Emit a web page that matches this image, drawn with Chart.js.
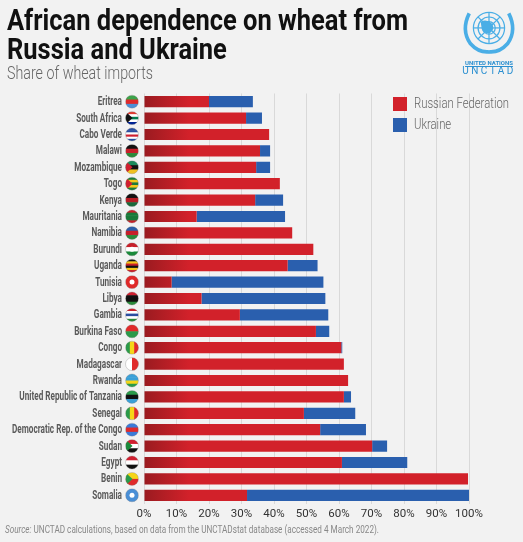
<!DOCTYPE html>
<html>
<head>
<meta charset="utf-8">
<script src="https://cdn.jsdelivr.net/npm/chart.js@4"></script>
<style>
  html, body { margin:0; padding:0; background:#f2f2f2; }
  #wrap { position:relative; width:523px; height:542px; overflow:hidden; background:#f2f2f2; }
  #chartBox { position:absolute; left:0; top:0; width:523px; height:542px; }
  .fit { position:absolute; white-space:nowrap; transform-origin:0 0; }
  #title { left:7px; top:5px; font-family:"Roboto",sans-serif; font-size:30px; line-height:29px; font-weight:700; color:#111; }
  #title span { display:inline-block; }
  #subtitle { left:7px; top:63px; font-size:17.5px; color:#666; font-family:"Roboto",sans-serif; font-weight:300; }
  #legend { position:absolute; left:393px; top:97px; }
  .legrow { position:relative; height:18px; margin-bottom:3px; }
  .legrow .sw { position:absolute; left:0; top:0; width:14px; height:14px; }
  .legrow .lt { left:21px; top:-3px; font-size:15px; color:#666; font-family:"Roboto",sans-serif; font-weight:300; }
  #source { left:5px; top:523px; font-size:10.5px; color:#888; font-family:"Roboto",sans-serif; }
  #logo { position:absolute; left:455px; top:4px; width:68px; text-align:center; color:#2a8fd0; font-family:"Roboto",sans-serif; }
</style>
</head>
<body>
<div id="wrap">
  <div id="chartBox"><canvas id="c"></canvas></div>
  <div id="title" class="fit"><span id="t1">African dependence on wheat from</span><br><span>Russia and Ukraine</span></div>
  <div id="subtitle" class="fit">Share of wheat imports</div>
  <div id="legend"></div>
  <div id="source" class="fit"><i>Source:</i> UNCTAD calculations, based on data from the UNCTADstat database (accessed 4 March 2022).</div>
  <div id="logo">
    <svg width="64" height="52" viewBox="0 0 60 50">
      <g fill="none" stroke="#4aaee6" stroke-width="1.2">
        <circle cx="30" cy="23" r="15"/>
        <circle cx="30" cy="23" r="10.5"/>
        <circle cx="30" cy="23" r="6"/>
        <line x1="15" y1="23" x2="45" y2="23"/>
        <line x1="30" y1="8" x2="30" y2="38"/>
        <line x1="19.4" y1="12.4" x2="40.6" y2="33.6"/>
        <line x1="40.6" y1="12.4" x2="19.4" y2="33.6"/>
        <path d="M11 9 Q3 25 12 38 Q20 47 30 46" stroke-width="3.5"/>
        <path d="M49 9 Q57 25 48 38 Q40 47 30 46" stroke-width="3.5"/>
      </g>
      <path d="M22 17 Q28 14 33 19 Q36 24 31 28 Q25 29 23 24 Z" fill="#4aaee6"/>
    </svg>
    <div style="font-size:6px;font-weight:bold;margin-top:-1px;text-decoration:underline;">UNITED NATIONS</div>
    <div style="font-size:10px;letter-spacing:2.5px;margin-top:-1px;">UNCTAD</div>
  </div>
</div>
<script>
// ---- data ----
const countries = ["Eritrea","South Africa","Cabo Verde","Malawi","Mozambique","Togo","Kenya","Mauritania","Namibia","Burundi","Uganda","Tunisia","Libya","Gambia","Burkina Faso","Congo","Madagascar","Rwanda","United Republic of Tanzania","Senegal","Democratic Rep. of the Congo","Sudan","Egypt","Benin","Somalia"];
const russia  = [20.0, 31.4, 38.5, 35.7, 34.5, 41.8, 34.2, 16.2, 45.6, 52.1, 44.2,  8.5, 17.7, 29.5, 52.9, 60.7, 61.5, 62.8, 61.5, 49.2, 54.2, 70.2, 60.9, 99.7, 31.7];
const ukraine = [13.5,  4.9,  0.0,  3.1,  4.3,  0.0,  8.6, 27.2,  0.0,  0.0,  9.2, 46.7, 38.1, 27.2,  4.1,  0.3,  0.0,  0.0,  2.2, 15.8, 14.1,  4.6, 20.1,  0.0, 68.3];
const seriesNames = ["Russian Federation","Ukraine"];
const xTicks = [0,10,20,30,40,50,60,70,80,90,100];

// flag approximations (style only)
const flags = {
  "Eritrea": {h:["#3ca34a","#e02a2a","#4a8fd6"]},
  "South Africa": {h:["#e03c31","#fff","#007a4d","#fff","#002395"], tri:"#111"},
  "Cabo Verde": {h:["#2a4ea0","#2a4ea0","#fff","#d02030","#fff","#2a4ea0"]},
  "Malawi": {h:["#111","#c8202a","#2a8a3a"]},
  "Mozambique": {h:["#1a8a5a","#111","#f0c020"], tri:"#d02030"},
  "Togo": {h:["#1a7a3a","#f5c518","#1a7a3a","#f5c518","#1a7a3a"], tri:"#d02030"},
  "Kenya": {h:["#111","#b81c24","#1a6a3a"]},
  "Mauritania": {h:["#c8202a","#1a7a3a","#1a7a3a","#1a7a3a","#c8202a"]},
  "Namibia": {h:["#2a5ea8","#c8202a","#2a8a3a"]},
  "Burundi": {h:["#c8202a","#fff","#1a8a3a"], dot:"#fff"},
  "Uganda": {h:["#111","#f5c518","#c8202a","#111","#f5c518","#c8202a"]},
  "Tunisia": {h:["#e02a2a"], dot:"#fff"},
  "Libya": {h:["#d02030","#111","#111","#2a8a3a"]},
  "Gambia": {h:["#c8202a","#fff","#2a4ea0","#fff","#2a8a3a"]},
  "Burkina Faso": {h:["#e02a2a","#2a9a4a"]},
  "Congo": {v:["#2a9a4a","#f5d518","#e02a2a"]},
  "Madagascar": {v:["#fff","#e02a2a"]},
  "Rwanda": {h:["#3aa0d8","#3aa0d8","#f5d518","#2a9a4a"]},
  "United Republic of Tanzania": {h:["#2a9a4a","#111","#3aa0d8"]},
  "Senegal": {v:["#2a9a4a","#f5d518","#e02a2a"]},
  "Democratic Rep. of the Congo": {h:["#3a7ad8","#e02a2a","#3a7ad8"]},
  "Sudan": {h:["#d02030","#fff","#111"], tri:"#1a8a3a"},
  "Egypt": {h:["#d02030","#fff","#111"]},
  "Benin": {h:["#f5d518","#e02a2a"], tri:"#2a9a4a"},
  "Somalia": {h:["#4a8fd6"], dot:"#fff"}
};

const RED = "#d2212a", BLUE = "#2a5fae";

// horizontal fitting to mimic the condensed typeface
function fitTo(el, target, measureEl) {
  const w = (measureEl || el).getBoundingClientRect().width;
  el.style.transform = "scaleX(" + (target / w) + ")";
}

// legend
const leg = document.getElementById("legend");
[RED, BLUE].forEach((col, i) => {
  const d = document.createElement("div");
  d.className = "legrow";
  d.innerHTML = '<span class="sw" style="background:' + col + '"></span><span class="lt fit">' + seriesNames[i] + '</span>';
  leg.appendChild(d);
});

fitTo(document.getElementById("title"), 401, document.getElementById("t1"));
fitTo(document.getElementById("subtitle"), 146);
fitTo(document.getElementById("source"), 374);
const legTexts = leg.querySelectorAll(".lt");
const legScale = 95 / legTexts[0].getBoundingClientRect().width;
legTexts.forEach(t => t.style.transform = "scaleX(" + legScale + ")");

const LABEL_FONT = '700 12px Roboto, sans-serif';

const labelPlugin = {
  id: "labelsAndFlags",
  afterDraw(chart) {
    const c = chart.ctx, ys = chart.scales.y;
    // category labels (condensed by horizontal scaling)
    c.save();
    c.font = LABEL_FONT;
    const sx = 110 / c.measureText("Democratic Rep. of the Congo").width;
    c.fillStyle = "#5a5a5a";
    c.textAlign = "right";
    c.textBaseline = "middle";
    chart.data.labels.forEach((lab, i) => {
      const y = ys.getPixelForValue(i);
      c.save(); c.translate(122, y + 0.5); c.scale(sx, 1); c.fillText(lab, 0, 0); c.restore();
    });
    c.restore();
    // flags
    const cx = 132, r = 6.5;
    countries.forEach((name, i) => {
      const f = flags[name]; if (!f) return;
      const cy = ys.getPixelForValue(i);
      c.save();
      c.beginPath(); c.arc(cx, cy, r, 0, Math.PI * 2); c.clip();
      if (f.h) {
        const n = f.h.length, hh = 2 * r / n;
        f.h.forEach((col, k) => { c.fillStyle = col; c.fillRect(cx - r, cy - r + k * hh, 2 * r, hh + 0.5); });
      } else if (f.v) {
        const n = f.v.length, ww = 2 * r / n;
        f.v.forEach((col, k) => { c.fillStyle = col; c.fillRect(cx - r + k * ww, cy - r, ww + 0.5, 2 * r); });
      }
      if (f.tri) {
        c.fillStyle = f.tri; c.beginPath();
        c.moveTo(cx - r, cy - r); c.lineTo(cx + 0.5, cy); c.lineTo(cx - r, cy + r); c.closePath(); c.fill();
      }
      if (f.dot) { c.fillStyle = f.dot; c.beginPath(); c.arc(cx, cy, 2.5, 0, Math.PI * 2); c.fill(); }
      c.restore();
      c.beginPath(); c.arc(cx, cy, r, 0, Math.PI * 2);
      c.strokeStyle = "rgba(120,120,120,0.5)"; c.lineWidth = 0.6; c.stroke();
    });
  }
};

function redGrad(ctx) {
  const chart = ctx.chart, area = chart.chartArea;
  if (!area) return RED;
  const g = chart.ctx.createLinearGradient(area.left, 0, area.left + 45, 0);
  g.addColorStop(0, "#9a1b20");
  g.addColorStop(1, RED);
  return g;
}

new Chart(document.getElementById("c"), {
  type: "bar",
  data: {
    labels: countries,
    datasets: [
      { label: seriesNames[0], data: russia, backgroundColor: redGrad, borderWidth: 0, categoryPercentage: 1, barPercentage: 0.68 },
      { label: seriesNames[1], data: ukraine, backgroundColor: BLUE, borderWidth: 0, categoryPercentage: 1, barPercentage: 0.68 }
    ]
  },
  options: {
    indexAxis: "y",
    responsive: true,
    maintainAspectRatio: false,
    animation: false,
    layout: { padding: { left: 0, right: 54, top: 93.5, bottom: 18.5 } },
    plugins: { legend: { display: false }, tooltip: { enabled: false }, title: { display: false } },
    scales: {
      x: {
        stacked: true, min: 0, max: 100,
        afterBuildTicks: (s) => { s.ticks = xTicks.map(v => ({ value: v })); },
        afterFit: (s) => { s.height = 20; },
        ticks: { callback: v => v + "%", color: "#333", padding: 4, maxRotation: 0, autoSkip: false,
                 font: { family: "Roboto, sans-serif", size: 11.5 } },
        grid: { color: "#d9d9d9", lineWidth: 1, drawTicks: false },
        border: { display: false }
      },
      y: {
        stacked: true,
        afterFit: (s) => { s.width = 144; },
        ticks: { display: false },
        grid: { display: false },
        border: { display: false }
      }
    }
  },
  plugins: [labelPlugin]
});
</script>
</body>
</html>
